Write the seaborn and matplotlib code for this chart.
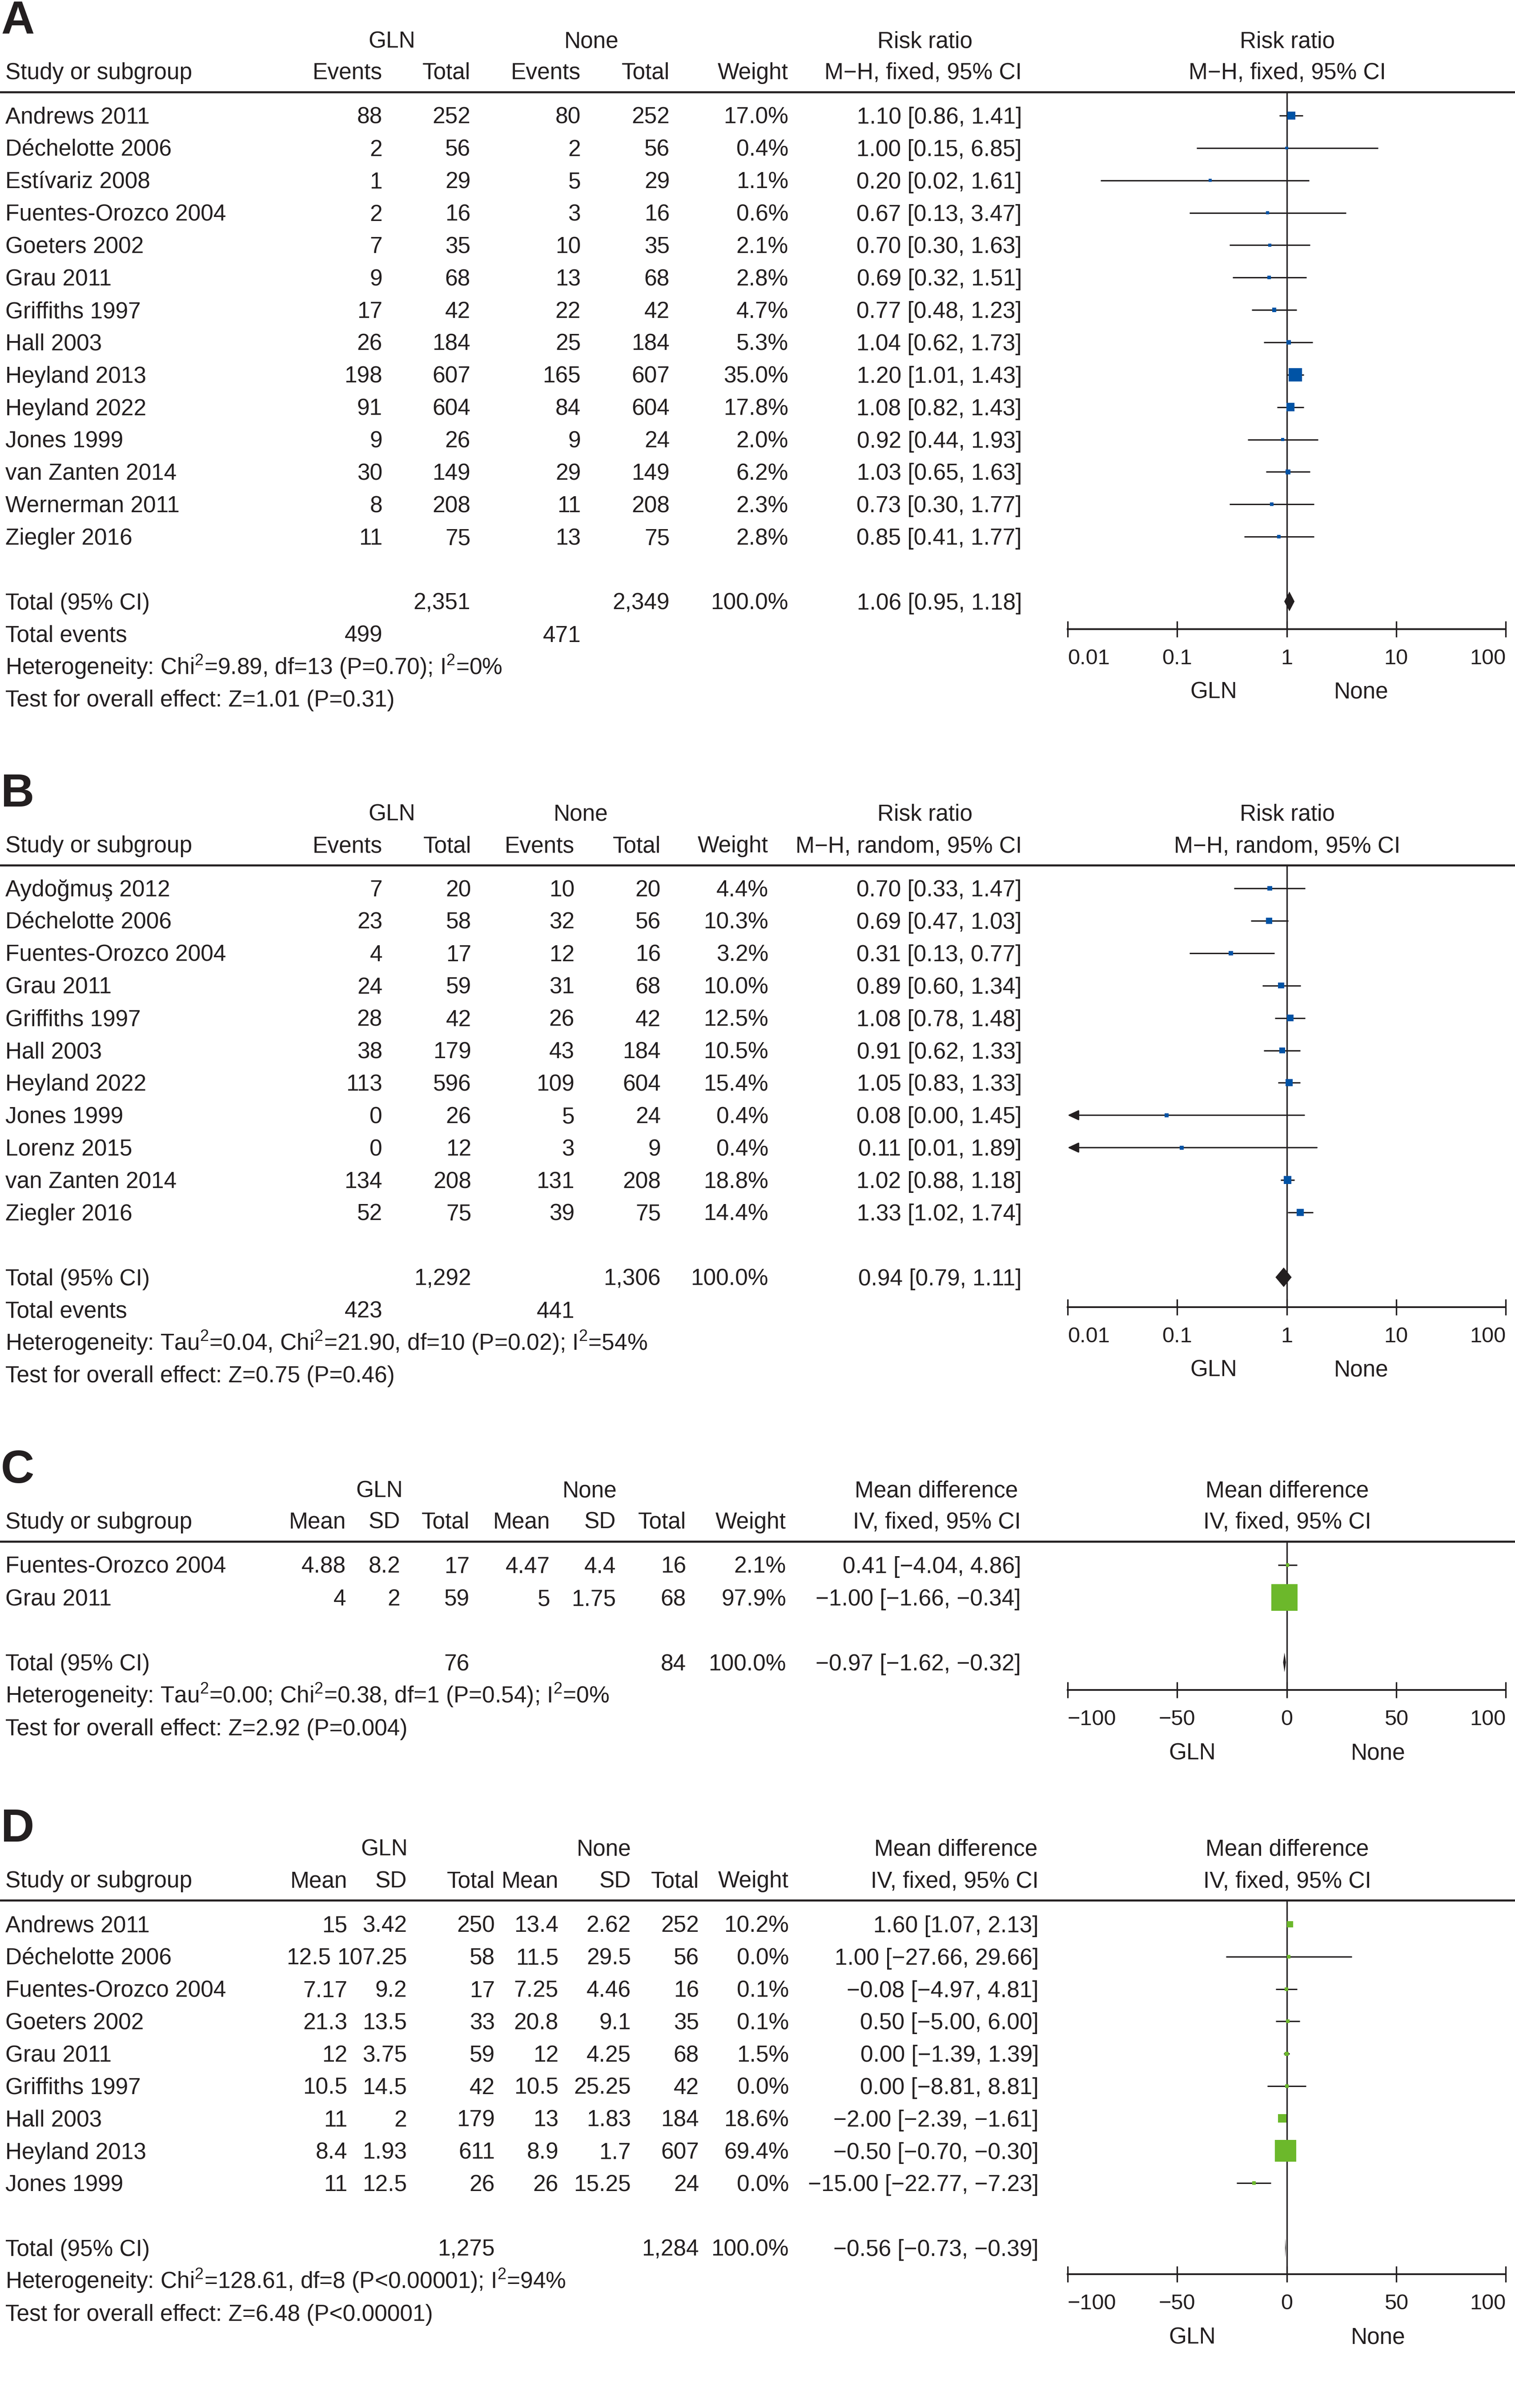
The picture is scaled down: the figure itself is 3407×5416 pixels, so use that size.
import numpy as np
import matplotlib
matplotlib.use('Agg')
import matplotlib.pyplot as plt
import seaborn as sns
from matplotlib.lines import Line2D
from matplotlib.ticker import NullLocator

sns.set_theme(style='white')
plt.rcParams['font.family'] = ['Liberation Sans', 'DejaVu Sans']
plt.rcParams['mathtext.fontset'] = 'custom'
plt.rcParams['mathtext.rm'] = 'Liberation Sans'
plt.rcParams['mathtext.it'] = 'Liberation Sans:italic'
plt.rcParams['mathtext.bf'] = 'Liberation Sans:bold'

W, H = 3407, 5416
INK = '#231f20'
BLUE = '#0053a5'
GREEN = '#6cb82b'
FS = 37
MINUS = '\u2212'

# ---- panel A: risk ratio, fixed ----
a_studies = ['Andrews 2011', 'Déchelotte 2006', 'Estívariz 2008', 'Fuentes-Orozco 2004', 'Goeters 2002',
             'Grau 2011', 'Griffiths 1997', 'Hall 2003', 'Heyland 2013', 'Heyland 2022', 'Jones 1999',
             'van Zanten 2014', 'Wernerman 2011', 'Ziegler 2016']
a_gln_events = [88, 2, 1, 2, 7, 9, 17, 26, 198, 91, 9, 30, 8, 11]
a_gln_total = [252, 56, 29, 16, 35, 68, 42, 184, 607, 604, 26, 149, 208, 75]
a_none_events = [80, 2, 5, 3, 10, 13, 22, 25, 165, 84, 9, 29, 11, 13]
a_none_total = [252, 56, 29, 16, 35, 68, 42, 184, 607, 604, 24, 149, 208, 75]
a_weight = [17.0, 0.4, 1.1, 0.6, 2.1, 2.8, 4.7, 5.3, 35.0, 17.8, 2.0, 6.2, 2.3, 2.8]
a_rr = [1.10, 1.00, 0.20, 0.67, 0.70, 0.69, 0.77, 1.04, 1.20, 1.08, 0.92, 1.03, 0.73, 0.85]
a_lo = [0.86, 0.15, 0.02, 0.13, 0.30, 0.32, 0.48, 0.62, 1.01, 0.82, 0.44, 0.65, 0.30, 0.41]
a_hi = [1.41, 6.85, 1.61, 3.47, 1.63, 1.51, 1.23, 1.73, 1.43, 1.43, 1.93, 1.63, 1.77, 1.77]
a_total = [2351, 2349]
a_events = [499, 471]
a_pooled = [1.06, 0.95, 1.18]
a_het = 'Heterogeneity: Chi$^{2}$=9.89, df=13 (P=0.70); I$^{2}$=0%'
a_test = 'Test for overall effect: Z=1.01 (P=0.31)'

# ---- panel B: risk ratio, random ----
b_studies = ['Aydoğmuş 2012', 'Déchelotte 2006', 'Fuentes-Orozco 2004', 'Grau 2011', 'Griffiths 1997',
             'Hall 2003', 'Heyland 2022', 'Jones 1999', 'Lorenz 2015', 'van Zanten 2014', 'Ziegler 2016']
b_gln_events = [7, 23, 4, 24, 28, 38, 113, 0, 0, 134, 52]
b_gln_total = [20, 58, 17, 59, 42, 179, 596, 26, 12, 208, 75]
b_none_events = [10, 32, 12, 31, 26, 43, 109, 5, 3, 131, 39]
b_none_total = [20, 56, 16, 68, 42, 184, 604, 24, 9, 208, 75]
b_weight = [4.4, 10.3, 3.2, 10.0, 12.5, 10.5, 15.4, 0.4, 0.4, 18.8, 14.4]
b_rr = [0.70, 0.69, 0.31, 0.89, 1.08, 0.91, 1.05, 0.08, 0.11, 1.02, 1.33]
b_lo = [0.33, 0.47, 0.13, 0.60, 0.78, 0.62, 0.83, 0.00, 0.01, 0.88, 1.02]
b_hi = [1.47, 1.03, 0.77, 1.34, 1.48, 1.33, 1.33, 1.45, 1.89, 1.18, 1.74]
b_total = [1292, 1306]
b_events = [423, 441]
b_pooled = [0.94, 0.79, 1.11]
b_het = 'Heterogeneity: Tau$^{2}$=0.04, Chi$^{2}$=21.90, df=10 (P=0.02); I$^{2}$=54%'
b_test = 'Test for overall effect: Z=0.75 (P=0.46)'

# ---- panel C: mean difference ----
c_studies = ['Fuentes-Orozco 2004', 'Grau 2011']
c_gln_mean = [4.88, 4]
c_gln_sd = [8.2, 2]
c_gln_total = [17, 59]
c_none_mean = [4.47, 5]
c_none_sd = [4.4, 1.75]
c_none_total = [16, 68]
c_weight = [2.1, 97.9]
c_md = [0.41, -1.00]
c_lo = [-4.04, -1.66]
c_hi = [4.86, -0.34]
c_total = [76, 84]
c_pooled = [-0.97, -1.62, -0.32]
c_het = 'Heterogeneity: Tau$^{2}$=0.00; Chi$^{2}$=0.38, df=1 (P=0.54); I$^{2}$=0%'
c_test = 'Test for overall effect: Z=2.92 (P=0.004)'

# ---- panel D: mean difference ----
d_studies = ['Andrews 2011', 'Déchelotte 2006', 'Fuentes-Orozco 2004', 'Goeters 2002', 'Grau 2011',
             'Griffiths 1997', 'Hall 2003', 'Heyland 2013', 'Jones 1999']
d_gln_mean = [15, 12.5, 7.17, 21.3, 12, 10.5, 11, 8.4, 11]
d_gln_sd = [3.42, 107.25, 9.2, 13.5, 3.75, 14.5, 2, 1.93, 12.5]
d_gln_total = [250, 58, 17, 33, 59, 42, 179, 611, 26]
d_none_mean = [13.4, 11.5, 7.25, 20.8, 12, 10.5, 13, 8.9, 26]
d_none_sd = [2.62, 29.5, 4.46, 9.1, 4.25, 25.25, 1.83, 1.7, 15.25]
d_none_total = [252, 56, 16, 35, 68, 42, 184, 607, 24]
d_weight = [10.2, 0.0, 0.1, 0.1, 1.5, 0.0, 18.6, 69.4, 0.0]
d_md = [1.60, 1.00, -0.08, 0.50, 0.00, 0.00, -2.00, -0.50, -15.00]
d_lo = [1.07, -27.66, -4.97, -5.00, -1.39, -8.81, -2.39, -0.70, -22.77]
d_hi = [2.13, 29.66, 4.81, 6.00, 1.39, 8.81, -1.61, -0.30, -7.23]
d_total = [1275, 1284]
d_pooled = [-0.56, -0.73, -0.39]
d_het = 'Heterogeneity: Chi$^{2}$=128.61, df=8 (P<0.00001); I$^{2}$=94%'
d_test = 'Test for overall effect: Z=6.48 (P<0.00001)'

rr_ticks = [0.01, 0.1, 1, 10, 100]
rr_labels = ['0.01', '0.1', '1', '10', '100']
md_ticks = [-100, -50, 0, 50, 100]
md_labels = [MINUS + '100', MINUS + '50', '0', '50', '100']

fig = plt.figure(figsize=(W / 100, H / 100), dpi=100)
fig.patch.set_facecolor('white')
renderer = fig.canvas.get_renderer()


def put(x, y, s, ha='left', size=FS, **kw):
    return fig.text(x / W, 1 - y / H, s, ha=ha, va='baseline', fontsize=size, color=INK, **kw)


def ci(e, l, h):
    return f'{e:.2f} [{l:.2f}, {h:.2f}]'.replace('-', MINUS)


def num(v):
    return f'{v:g}'


def header(letter, y1, head1, head2, cols, plot_head):
    put(2, y1 - 32, letter, size=75, family=['Liberation Sans Narrow', 'Liberation Sans'], weight='bold')
    for s, x in head1:
        put(x, y1, s, ha='center')
    put(2895, y1, plot_head[0], ha='center')
    put(12, y1 + 71, 'Study or subgroup')
    for s, x in zip(head2, cols):
        put(x, y1 + 71, s, ha='right')
    put(2895, y1 + 71, plot_head[1], ha='center')
    fig.add_artist(Line2D([0, 1], [1 - (y1 + 100) / H] * 2, color=INK, lw=3.3))


def row(y, label, cells, cols):
    # right aligned cells; a cell that would run into its right neighbour is pushed left
    put(12, y, label)
    limit = None
    for s, x in reversed(list(zip(cells, cols))):
        if s == '':
            continue
        if limit is not None:
            x = min(x, limit)
        t = put(x, y, s, ha='right')
        limit = t.get_window_extent(renderer=renderer).x0 - 14


def forest(line_y, axis_y, row0, dy, est, lo, hi, wt, pooled, log, color, base, k, glnx, nonex):
    ax = fig.add_axes([2401 / W, 1 - axis_y / H, 985 / W, (axis_y - line_y) / H])
    ax.set_facecolor('none')
    yc0 = row0 - 18
    ax.set_ylim((axis_y - yc0) / dy, (line_y - yc0) / dy)
    n = len(est)
    ys = np.arange(n)
    if log:
        ax.set_xscale('log')
        ax.set_xlim(0.01, 100)
        ax.set_xticks(rr_ticks)
        ax.set_xticklabels(rr_labels)
        ref = 1
        xmin = 0.01
    else:
        ax.set_xlim(-100, 100)
        ax.set_xticks(md_ticks)
        ax.set_xticklabels(md_labels)
        ref = 0
        xmin = -100
    ax.xaxis.set_minor_locator(NullLocator())
    ax.axvline(ref, color=INK, lw=2.2, zorder=3)
    for i in range(n):
        if lo[i] <= xmin:
            ax.annotate('', xy=(xmin, i), xytext=(hi[i], i),
                        arrowprops=dict(arrowstyle='-|>,head_length=0.75,head_width=0.35', color=INK,
                                        lw=2.2, shrinkA=0, shrinkB=0, mutation_scale=20), zorder=2)
        else:
            ax.hlines(i, lo[i], hi[i], colors=INK, lw=2.2, zorder=2)
    side_px = [base + k * w for w in wt]
    sizes = [(p * 0.72) ** 2 for p in side_px]
    sns.scatterplot(x=est, y=ys, marker='s', s=sizes, color=color, linewidth=0, ax=ax, zorder=4, legend=False)
    e, l, h = pooled
    yt = n + 1
    hh = 22 / dy
    ax.fill([l, e, h, e], [yt, yt - hh, yt, yt + hh], color=INK, lw=0, zorder=5)
    for s in ['left', 'right', 'top']:
        ax.spines[s].set_visible(False)
    ax.spines['bottom'].set_color(INK)
    ax.spines['bottom'].set_linewidth(2.8)
    ax.tick_params(axis='x', direction='inout', length=26, width=2.4, color=INK, labelsize=35,
                   labelcolor=INK, pad=19, bottom=True)
    ax.tick_params(axis='y', left=False, labelleft=False)
    ticks = ax.xaxis.get_major_ticks()
    ticks[0].label1.set_horizontalalignment('left')
    ticks[-1].label1.set_horizontalalignment('right')
    ax.grid(False)
    put(glnx, axis_y + 156, 'GLN', ha='center')
    put(nonex, axis_y + 156, 'None', ha='center')
    return ax


# ---------- A ----------
y1, dy = 107, 72.85
cols = [860, 1058, 1306, 1506, 1773, 2298]
header('A', y1, [('GLN', 881), ('None', 1330), ('Risk ratio', 2080)],
       ['Events', 'Total', 'Events', 'Total', 'Weight', 'M\u2212H, fixed, 95% CI'], cols,
       ['Risk ratio', 'M\u2212H, fixed, 95% CI'])
row0 = y1 + 171
for i, name in enumerate(a_studies):
    row(row0 + i * dy, name, [str(a_gln_events[i]), str(a_gln_total[i]), str(a_none_events[i]),
                             str(a_none_total[i]), f'{a_weight[i]:.1f}%', ci(a_rr[i], a_lo[i], a_hi[i])], cols)
n = len(a_studies)
row(row0 + (n + 1) * dy, 'Total (95% CI)', ['', f'{a_total[0]:,}', '', f'{a_total[1]:,}', '100.0%', ci(*a_pooled)], cols)
row(row0 + (n + 2) * dy, 'Total events', [str(a_events[0]), '', str(a_events[1])], cols)
put(12, row0 + (n + 3) * dy, a_het)
put(12, row0 + (n + 4) * dy, a_test)
forest(y1 + 100, 1415, row0, dy, a_rr, a_lo, a_hi, a_weight, a_pooled, True, BLUE, 6, 0.7, 2729, 3061)

# ---------- B ----------
y1, dy = 1846, 72.9
cols = [860, 1060, 1292, 1486, 1728, 2298]
header('B', y1, [('GLN', 881), ('None', 1306), ('Risk ratio', 2080)],
       ['Events', 'Total', 'Events', 'Total', 'Weight', 'M\u2212H, random, 95% CI'], cols,
       ['Risk ratio', 'M\u2212H, random, 95% CI'])
row0 = y1 + 170
for i, name in enumerate(b_studies):
    row(row0 + i * dy, name, [str(b_gln_events[i]), str(b_gln_total[i]), str(b_none_events[i]),
                             str(b_none_total[i]), f'{b_weight[i]:.1f}%', ci(b_rr[i], b_lo[i], b_hi[i])], cols)
n = len(b_studies)
row(row0 + (n + 1) * dy, 'Total (95% CI)', ['', f'{b_total[0]:,}', '', f'{b_total[1]:,}', '100.0%', ci(*b_pooled)], cols)
row(row0 + (n + 2) * dy, 'Total events', [str(b_events[0]), '', str(b_events[1])], cols)
put(12, row0 + (n + 3) * dy, b_het)
put(12, row0 + (n + 4) * dy, b_test)
forest(y1 + 100, 2940, row0, dy, b_rr, b_lo, b_hi, b_weight, b_pooled, True, BLUE, 9, 0.45, 2729, 3061)

# ---------- C ----------
y1, dy = 3367, 73.0
cols = [778, 900, 1056, 1237, 1385, 1543, 1768, 2296]
header('C', y1, [('GLN', 853), ('None', 1326), ('Mean difference', 2106)],
       ['Mean', 'SD', 'Total', 'Mean', 'SD', 'Total', 'Weight', 'IV, fixed, 95% CI'], cols,
       ['Mean difference', 'IV, fixed, 95% CI'])
row0 = y1 + 171
for i, name in enumerate(c_studies):
    row(row0 + i * dy, name, [num(c_gln_mean[i]), num(c_gln_sd[i]), str(c_gln_total[i]), num(c_none_mean[i]),
                             num(c_none_sd[i]), str(c_none_total[i]), f'{c_weight[i]:.1f}%',
                             ci(c_md[i], c_lo[i], c_hi[i])], cols)
n = len(c_studies)
row(row0 + (n + 1) * dy, 'Total (95% CI)', ['', '', f'{c_total[0]:,}', '', '', f'{c_total[1]:,}', '100.0%', ci(*c_pooled)], cols)
put(12, row0 + (n + 2) * dy, c_het)
put(12, row0 + (n + 3) * dy, c_test)
forest(y1 + 100, 3801, row0, dy, c_md, c_lo, c_hi, c_weight, c_pooled, False, GREEN, 6, 0.55, 2681, 3099)

# ---------- D ----------
y1, dy = 4174, 72.8
cols = [781, 915, 1113, 1256, 1419, 1572, 1774, 2336]
header('D', y1, [('GLN', 864), ('None', 1358), ('Mean difference', 2150)],
       ['Mean', 'SD', 'Total', 'Mean', 'SD', 'Total', 'Weight', 'IV, fixed, 95% CI'], cols,
       ['Mean difference', 'IV, fixed, 95% CI'])
row0 = y1 + 172
for i, name in enumerate(d_studies):
    row(row0 + i * dy, name, [num(d_gln_mean[i]), num(d_gln_sd[i]), str(d_gln_total[i]), num(d_none_mean[i]),
                             num(d_none_sd[i]), str(d_none_total[i]), f'{d_weight[i]:.1f}%',
                             ci(d_md[i], d_lo[i], d_hi[i])], cols)
n = len(d_studies)
row(row0 + (n + 1) * dy, 'Total (95% CI)', ['', '', f'{d_total[0]:,}', '', '', f'{d_total[1]:,}', '100.0%', ci(*d_pooled)], cols)
put(12, row0 + (n + 2) * dy, d_het)
put(12, row0 + (n + 3) * dy, d_test)
forest(y1 + 100, 5115, row0, dy, d_md, d_lo, d_hi, d_weight, d_pooled, False, GREEN, 8, 0.58, 2681, 3099)

fig.savefig('out.png', dpi=100, facecolor='white')
